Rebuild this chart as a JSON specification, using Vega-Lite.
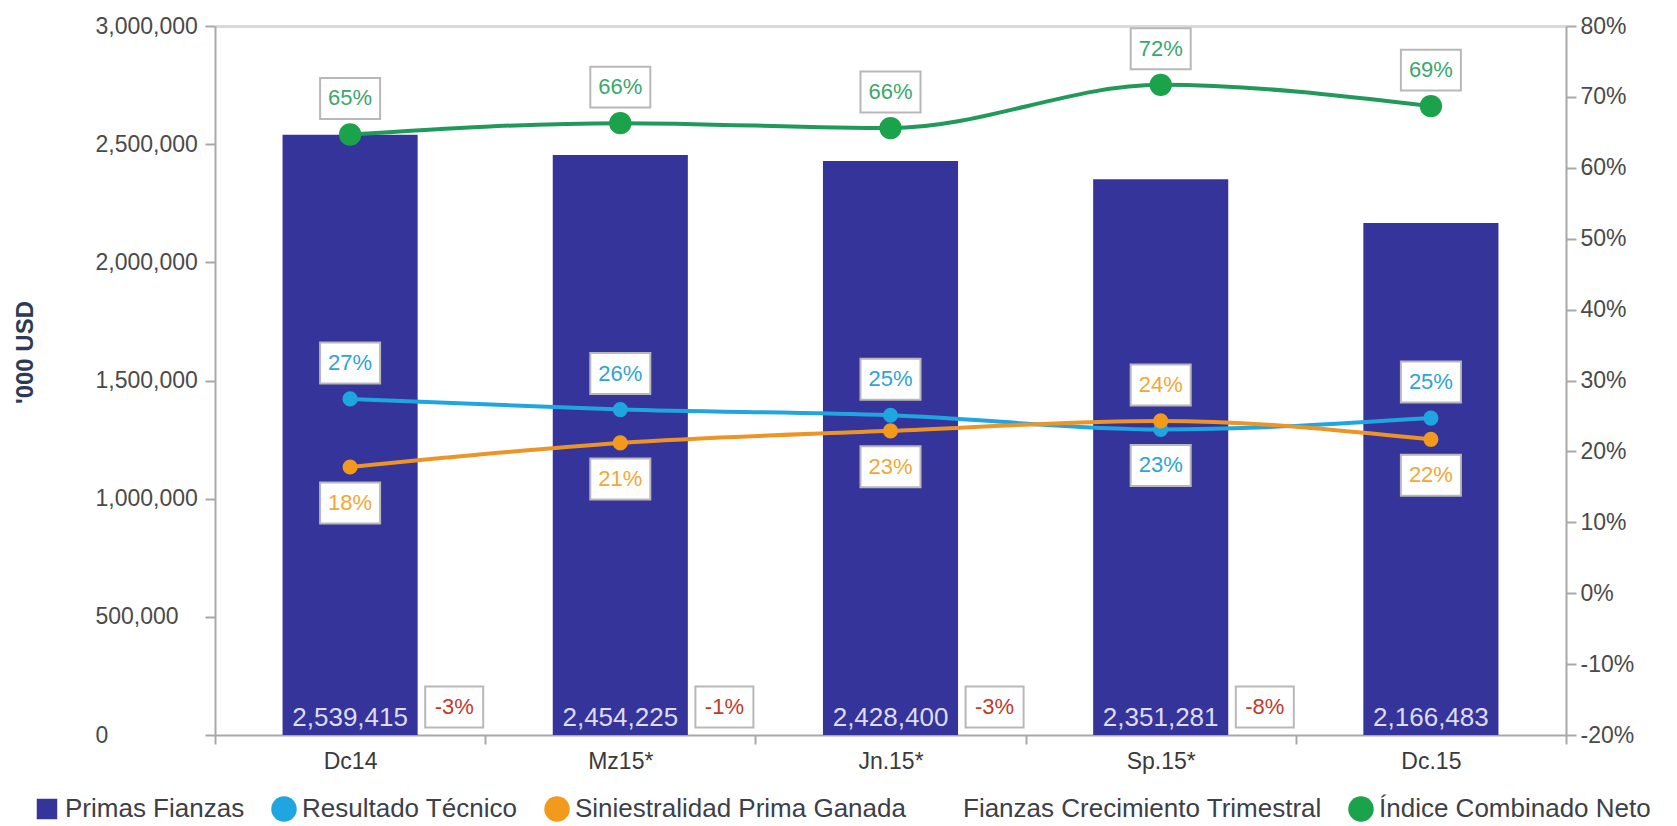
{
  "$schema": "https://vega.github.io/schema/vega-lite/v6.json",
  "width": 1351,
  "height": 709,
  "autosize": {"type": "none"},
  "padding": {"left": 215, "top": 26, "right": 111, "bottom": 91},
  "background": "white",
  "config": {
    "font": "Liberation Sans",
    "view": {"stroke": null},
    "locale": {"number": {"decimal": ".", "thousands": ",", "grouping": [3], "currency": ["$", ""], "minus": "-"}},
    "axis": {"labelFont": "Liberation Sans", "labelFontSize": 23, "labelColor": "#4a4a4a", "domainColor": "#a8a8a8", "domainWidth": 2, "tickColor": "#a8a8a8", "tickWidth": 2, "grid": false}
  },
  "data": {
    "values": [
      {"cat": "Dc14", "primas": 2539415, "resultado": 0.274, "siniestralidad": 0.178, "crecimiento": null, "indice": 0.647},
      {"cat": "Mz15*", "primas": 2454225, "resultado": 0.259, "siniestralidad": 0.212, "crecimiento": -0.034, "indice": 0.663},
      {"cat": "Jn.15*", "primas": 2428400, "resultado": 0.251, "siniestralidad": 0.229, "crecimiento": -0.011, "indice": 0.656},
      {"cat": "Sp.15*", "primas": 2351281, "resultado": 0.231, "siniestralidad": 0.243, "crecimiento": -0.032, "indice": 0.717},
      {"cat": "Dc.15", "primas": 2166483, "resultado": 0.247, "siniestralidad": 0.217, "crecimiento": -0.079, "indice": 0.687}
    ]
  },
  "encoding": {
    "x": {"field": "cat", "type": "nominal", "scale": {"type": "band", "domain": ["Dc14", "Mz15*", "Jn.15*", "Sp.15*", "Dc.15"], "paddingInner": 0, "paddingOuter": 0},
      "axis": {"title": null, "labelAngle": 0, "tickBand": "extent", "tickSize": 9, "labelPadding": 6, "labelColor": "#3a3a3a"}}
  },
  "layer": [
    {
      "layer": [
        {
          "mark": {"type": "bar", "width": {"band": 0.5}},
          "encoding": {
            "y": {"field": "primas", "type": "quantitative", "scale": {"domain": [0, 3000000]},
              "axis": {"title": "'000 USD", "orient": "left", "values": [0, 500000, 1000000, 1500000, 2000000, 2500000, 3000000], "format": ",.0f", "labelAlign": "left", "labelPadding": 110, "tickSize": 10, "titleFontSize": 24, "titleFontWeight": "bold", "titleColor": "#2c3a55", "titleX": -190, "titleY": 326, "titleAngle": -90, "titleAlign": "center", "titleBaseline": "middle",
                "grid": true, "gridColor": "#dadada", "gridWidth": 3, "gridOpacity": {"condition": {"test": "datum.value >= 3000000", "value": 1}, "value": 0}}},
            "color": {"datum": "Primas Fianzas",
              "scale": {"domain": ["Primas Fianzas", "Resultado Técnico", "Siniestralidad Prima Ganada", "Fianzas Crecimiento Trimestral", "Índice Combinado Neto"], "range": ["#35349a", "#1fa6e0", "#f39a1c", "#ffffff", "#1aa34a"]},
              "legend": {"orient": "none", "legendX": -181, "legendY": 770, "direction": "horizontal", "columns": 5, "title": null, "labelFontSize": 26, "labelColor": "#3c4048", "labelFont": "Liberation Sans", "labelLimit": 0, "symbolSize": 650, "labelOffset": 5, "columnPadding": 26, "symbolStrokeWidth": 0,
                "encode": {"symbols": {"update": {"shape": {"signal": "datum.value === 'Primas Fianzas' ? 'square' : 'circle'"}, "size": {"signal": "datum.value === 'Primas Fianzas' ? 420 : 650"}, "opacity": {"signal": "datum.value === 'Fianzas Crecimiento Trimestral' ? 0 : 1"}}}}}}
          }
        },
        {
          "mark": {"type": "text", "baseline": "bottom", "dy": -4, "fontSize": 26, "color": "#dedcf6"},
          "encoding": {
            "y": {"datum": 0, "type": "quantitative",
              "axis": {"title": "'000 USD", "orient": "left", "values": [0, 500000, 1000000, 1500000, 2000000, 2500000, 3000000], "format": ",.0f", "labelAlign": "left", "labelPadding": 110, "tickSize": 10, "titleFontSize": 24, "titleFontWeight": "bold", "titleColor": "#2c3a55", "titleX": -190, "titleY": 326, "titleAngle": -90, "titleAlign": "center", "titleBaseline": "middle",
                "grid": true, "gridColor": "#dadada", "gridWidth": 3, "gridOpacity": {"condition": {"test": "datum.value >= 3000000", "value": 1}, "value": 0}}},
            "text": {"field": "primas", "type": "quantitative", "format": ","}
          }
        },
        {
          "transform": [{"filter": "isValid(datum.crecimiento)"}],
          "mark": {"type": "point", "shape": "M-2.069,-1.672H-0.069V-0.259H-2.069Z", "size": 3364, "filled": true, "fill": "#ffffff", "stroke": "#b8b8b8", "strokeWidth": 2, "opacity": 1},
          "encoding": {
            "x": {"field": "cat", "type": "nominal", "bandPosition": 0,
              "axis": {"title": null, "labelAngle": 0, "tickBand": "extent", "tickSize": 9, "labelPadding": 6, "labelColor": "#3a3a3a"}},
            "y": {"datum": 0, "type": "quantitative",
              "axis": {"title": "'000 USD", "orient": "left", "values": [0, 500000, 1000000, 1500000, 2000000, 2500000, 3000000], "format": ",.0f", "labelAlign": "left", "labelPadding": 110, "tickSize": 10, "titleFontSize": 24, "titleFontWeight": "bold", "titleColor": "#2c3a55", "titleX": -190, "titleY": 326, "titleAngle": -90, "titleAlign": "center", "titleBaseline": "middle",
                "grid": true, "gridColor": "#dadada", "gridWidth": 3, "gridOpacity": {"condition": {"test": "datum.value >= 3000000", "value": 1}, "value": 0}}}
          }
        },
        {
          "transform": [{"filter": "isValid(datum.crecimiento)"}],
          "mark": {"type": "text", "dx": -31, "dy": -28, "fontSize": 22, "color": "#c0392b", "baseline": "middle"},
          "encoding": {
            "x": {"field": "cat", "type": "nominal", "bandPosition": 0,
              "axis": {"title": null, "labelAngle": 0, "tickBand": "extent", "tickSize": 9, "labelPadding": 6, "labelColor": "#3a3a3a"}},
            "y": {"datum": 0, "type": "quantitative",
              "axis": {"title": "'000 USD", "orient": "left", "values": [0, 500000, 1000000, 1500000, 2000000, 2500000, 3000000], "format": ",.0f", "labelAlign": "left", "labelPadding": 110, "tickSize": 10, "titleFontSize": 24, "titleFontWeight": "bold", "titleColor": "#2c3a55", "titleX": -190, "titleY": 326, "titleAngle": -90, "titleAlign": "center", "titleBaseline": "middle",
                "grid": true, "gridColor": "#dadada", "gridWidth": 3, "gridOpacity": {"condition": {"test": "datum.value >= 3000000", "value": 1}, "value": 0}}},
            "text": {"field": "crecimiento", "type": "quantitative", "format": ".0%"}
          }
        }
      ]
    },
    {
      "layer": [
        {
          "mark": {"type": "line", "interpolate": "monotone", "color": "#20995a", "strokeWidth": 4},
          "encoding": {
            "y": {"field": "indice", "type": "quantitative", "scale": {"domain": [-0.2, 0.8]},
              "axis": {"orient": "right", "title": null, "values": [-0.2, -0.1, 0, 0.1, 0.2, 0.3, 0.4, 0.5, 0.6, 0.7, 0.8], "format": ".0%", "tickSize": 10, "labelPadding": 4}}
          }
        },
        {
          "mark": {"type": "line", "interpolate": "monotone", "color": "#1fa6e0", "strokeWidth": 4},
          "encoding": {"y": {"field": "resultado", "type": "quantitative"}}
        },
        {
          "mark": {"type": "line", "interpolate": "monotone", "color": "#ec9526", "strokeWidth": 4},
          "encoding": {"y": {"field": "siniestralidad", "type": "quantitative"}}
        },
        {
          "mark": {"type": "circle", "size": 500, "color": "#1aa34a", "opacity": 1},
          "encoding": {"y": {"field": "indice", "type": "quantitative"}}
        },
        {
          "mark": {"type": "circle", "size": 230, "color": "#1fa6e0", "opacity": 1},
          "encoding": {"y": {"field": "resultado", "type": "quantitative"}}
        },
        {
          "mark": {"type": "circle", "size": 230, "color": "#f39a1c", "opacity": 1},
          "encoding": {"y": {"field": "siniestralidad", "type": "quantitative"}}
        },
        {
          "mark": {"type": "point", "shape": "M-1,-1.883H1V-0.517H-1Z", "size": 3600, "filled": true, "fill": "#ffffff", "stroke": "#b8b8b8", "strokeWidth": 2, "opacity": 1},
          "encoding": {"y": {"field": "indice", "type": "quantitative"}}
        },
        {
          "transform": [{"filter": "datum.resultado >= datum.siniestralidad"}],
          "mark": {"type": "point", "shape": "M-1,-1.883H1V-0.517H-1Z", "size": 3600, "filled": true, "fill": "#ffffff", "stroke": "#b8b8b8", "strokeWidth": 2, "opacity": 1},
          "encoding": {"y": {"field": "resultado", "type": "quantitative"}}
        },
        {
          "transform": [{"filter": "datum.resultado < datum.siniestralidad"}],
          "mark": {"type": "point", "shape": "M-1,0.517H1V1.883H-1Z", "size": 3600, "filled": true, "fill": "#ffffff", "stroke": "#b8b8b8", "strokeWidth": 2, "opacity": 1},
          "encoding": {"y": {"field": "resultado", "type": "quantitative"}}
        },
        {
          "transform": [{"filter": "datum.siniestralidad > datum.resultado"}],
          "mark": {"type": "point", "shape": "M-1,-1.883H1V-0.517H-1Z", "size": 3600, "filled": true, "fill": "#ffffff", "stroke": "#b8b8b8", "strokeWidth": 2, "opacity": 1},
          "encoding": {"y": {"field": "siniestralidad", "type": "quantitative"}}
        },
        {
          "transform": [{"filter": "datum.siniestralidad <= datum.resultado"}],
          "mark": {"type": "point", "shape": "M-1,0.517H1V1.883H-1Z", "size": 3600, "filled": true, "fill": "#ffffff", "stroke": "#b8b8b8", "strokeWidth": 2, "opacity": 1},
          "encoding": {"y": {"field": "siniestralidad", "type": "quantitative"}}
        },
        {
          "mark": {"type": "text", "dy": -36, "fontSize": 22, "color": "#3aa86c", "baseline": "middle"},
          "encoding": {"y": {"field": "indice", "type": "quantitative"}, "text": {"field": "indice", "type": "quantitative", "format": ".0%"}}
        },
        {
          "transform": [{"filter": "datum.resultado >= datum.siniestralidad"}],
          "mark": {"type": "text", "dy": -36, "fontSize": 22, "color": "#2fa3d6", "baseline": "middle"},
          "encoding": {"y": {"field": "resultado", "type": "quantitative"}, "text": {"field": "resultado", "type": "quantitative", "format": ".0%"}}
        },
        {
          "transform": [{"filter": "datum.resultado < datum.siniestralidad"}],
          "mark": {"type": "text", "dy": 36, "fontSize": 22, "color": "#2fa3d6", "baseline": "middle"},
          "encoding": {"y": {"field": "resultado", "type": "quantitative"}, "text": {"field": "resultado", "type": "quantitative", "format": ".0%"}}
        },
        {
          "transform": [{"filter": "datum.siniestralidad > datum.resultado"}],
          "mark": {"type": "text", "dy": -36, "fontSize": 22, "color": "#f0a836", "baseline": "middle"},
          "encoding": {"y": {"field": "siniestralidad", "type": "quantitative"}, "text": {"field": "siniestralidad", "type": "quantitative", "format": ".0%"}}
        },
        {
          "transform": [{"filter": "datum.siniestralidad <= datum.resultado"}],
          "mark": {"type": "text", "dy": 36, "fontSize": 22, "color": "#f0a836", "baseline": "middle"},
          "encoding": {"y": {"field": "siniestralidad", "type": "quantitative"}, "text": {"field": "siniestralidad", "type": "quantitative", "format": ".0%"}}
        }
      ]
    }
  ],
  "resolve": {"scale": {"y": "independent"}}
}
